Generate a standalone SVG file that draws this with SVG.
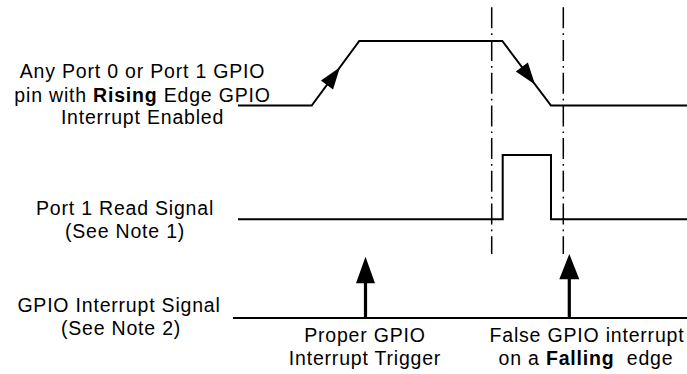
<svg xmlns="http://www.w3.org/2000/svg" width="687" height="374" viewBox="0 0 687 374">
<style>
text { font-family: "Liberation Sans", Arial, Helvetica, sans-serif; font-size: 19.5px; letter-spacing: 0.8px; fill: #000; text-anchor: middle; }
.b { font-weight: bold; }
.sig { fill: none; stroke: #000; stroke-width: 2; stroke-linejoin: miter; stroke-linecap: butt; }
.dd { fill: none; stroke: #000; stroke-width: 1.5; stroke-dasharray: 21 5 1.7 5; }
.head { fill: #000; stroke: none; }
.shaft { stroke: #000; stroke-width: 3.2; fill: none; }
</style>
<rect width="687" height="374" fill="#fff"/>
<g id="label-gpio-pin">
<text x="142.5" y="78">Any Port 0 or Port 1 GPIO</text>
<text x="142.5" y="101.5">pin with <tspan class="b">Rising</tspan> Edge GPIO</text>
<text x="142.5" y="124">Interrupt Enabled</text>
</g>
<g id="label-port1-read">
<text x="125" y="215">Port 1 Read Signal</text>
<text x="125" y="237.5">(See Note 1)</text>
</g>
<g id="label-gpio-int">
<text x="119" y="312">GPIO Interrupt Signal</text>
<text x="121" y="334.5">(See Note 2)</text>
</g>
<g id="label-proper">
<text x="365" y="342">Proper GPIO</text>
<text x="365" y="365">Interrupt Trigger</text>
</g>
<g id="label-false">
<text x="587" y="342">False GPIO interrupt</text>
<text x="586" y="365" xml:space="preserve">on a <tspan class="b">Falling</tspan>  edge</text>
</g>
<g id="connectors">
<line class="dd" x1="491.7" y1="7.3" x2="491.7" y2="254"/>
<line class="dd" x1="563.3" y1="7.3" x2="563.3" y2="254"/>
<polyline class="sig" points="238,105.5 311.7,105.5 359.3,41 502.3,41 551,105.5 687,105.5"/>
<polygon class="head" points="340,67.3 333.05,89.5 320.95,80.6"/>
<polygon class="head" points="535,84.5 527.86,62.4 515.84,71.4"/>
<polyline class="sig" points="238,219.3 502.7,219.3 502.7,155 551,155 551,219.3 687,219.3"/>
<line class="sig" x1="233" y1="318" x2="687" y2="318"/>
<line class="shaft" x1="365.5" y1="318" x2="365.5" y2="280"/>
<polygon class="head" points="365.5,256.7 375,283.3 356,283.3"/>
<line class="shaft" x1="569.3" y1="318" x2="569.3" y2="277"/>
<polygon class="head" points="569.3,254 579.3,279.3 559.3,279.3"/>
</g>
</svg>
